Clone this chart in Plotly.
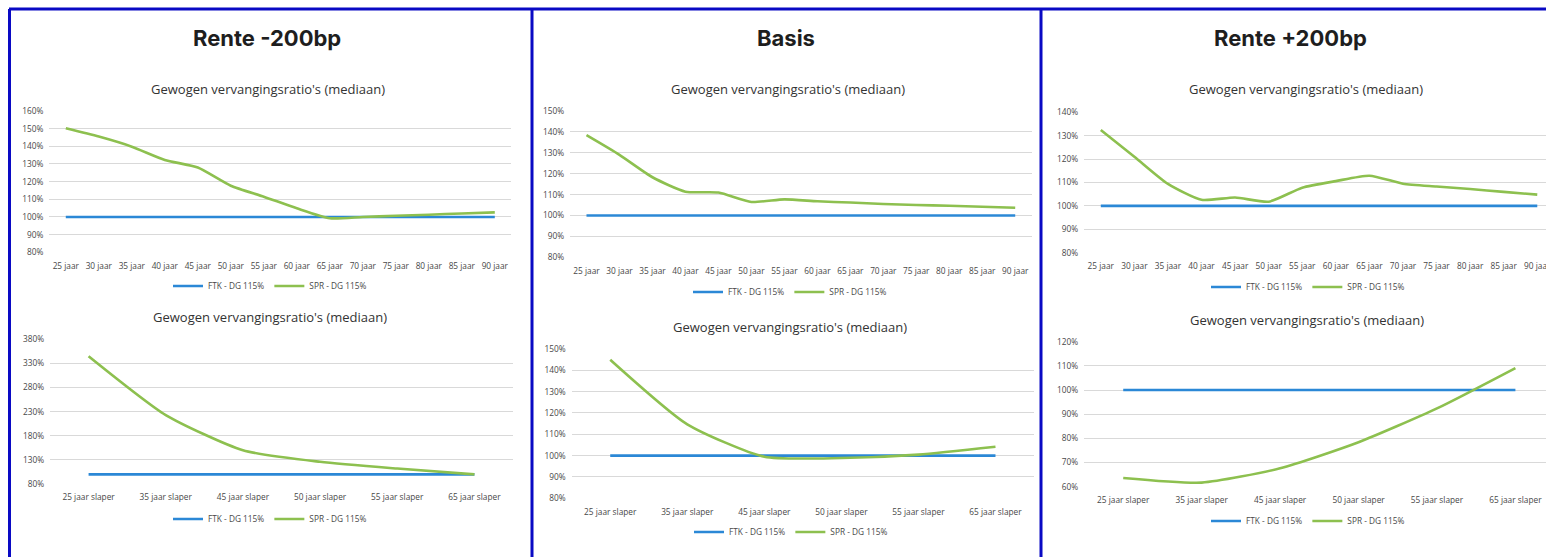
import plotly.graph_objects as go

# ---- data ----
leeftijden = ["25 jaar", "30 jaar", "35 jaar", "40 jaar", "45 jaar", "50 jaar", "55 jaar",
              "60 jaar", "65 jaar", "70 jaar", "75 jaar", "80 jaar", "85 jaar", "90 jaar"]
slapers = ["25 jaar slaper", "35 jaar slaper", "45 jaar slaper",
           "50 jaar slaper", "55 jaar slaper", "65 jaar slaper"]

ftk_leeftijden = [100] * 14
ftk_slapers = [100] * 6

spr_min200_leeftijden = [150.2, 145.5, 139.8, 132.3, 128.0, 117.7, 111.5, 104.9, 99.3, 100.0, 100.7, 101.3, 102.0, 102.6]
spr_min200_slapers = [345, 223, 150, 126, 112, 100]

spr_basis_leeftijden = [138.4, 129.0, 118.3, 111.4, 111.0, 106.5, 107.7, 106.8, 106.2, 105.5, 105.0, 104.7, 104.2, 103.7]
spr_basis_slapers = [145.0, 114.7, 99.5, 98.9, 100.5, 104.2]

spr_plus200_leeftijden = [132.4, 121.0, 109.4, 102.6, 103.6, 101.8, 107.8, 110.6, 112.9, 109.5, 108.3, 107.2, 106.0, 104.8]
spr_plus200_slapers = [63.6, 61.7, 67.6, 78.4, 92.4, 109.1]

panel_titels = ["Rente -200bp", "Basis", "Rente +200bp"]
grafiek_titel = "Gewogen vervangingsratio's (mediaan)"
naam_ftk = "FTK - DG 115%"
naam_spr = "SPR - DG 115%"

# ---- styling ----
W, H = 1546, 557
BLAUW = "#2b88d6"
GROEN = "#8dc04f"
RAND = "#0a0ac4"
GRID = "#d9d9d9"
TEKST = "#484848"
FONT = "Open Sans"


def px_x(x):
    return x / W


def px_y(y):
    return 1 - y / H


fig = go.Figure()

# each chart: (categories, ftk, spr, x-domain px, y-domain px (bottom, top), y-range, dtick, x-range,
#              title pos, legend pos)
charts = [
    (leeftijden, ftk_leeftijden, spr_min200_leeftijden, (49.3, 511.3), (252.3, 111.0), (80, 160), 10,
     [-0.5, 13.5], (268, 89), (270, 286)),
    (slapers, ftk_slapers, spr_min200_slapers, (50.0, 513.0), (484.0, 339.3), (80, 380), 50,
     [-0.5, 5.5], (270, 317), (270, 519)),
    (leeftijden, ftk_leeftijden, spr_basis_leeftijden, (570.0, 1031.7), (257.3, 111.0), (80, 150), 10,
     [-0.5, 13.5], (788, 89), (790, 292)),
    (slapers, ftk_slapers, spr_basis_slapers, (571.7, 1034.0), (498.3, 349.0), (80, 150), 10,
     [-0.5, 5.5], (790, 327), (791, 532)),
    (leeftijden, ftk_leeftijden, spr_plus200_leeftijden, (1084.0, 1546.0), (252.7, 112.3), (80, 140), 10,
     [-0.5, 13.26], (1306, 89), (1308, 287)),
    (slapers, ftk_slapers, spr_plus200_slapers, (1084.0, 1546.0), (486.7, 341.7), (60, 120), 10,
     [-0.5, 5.39], (1307, 320), (1308, 521)),
]

annotations = []
layout_axes = {}

for i, (cats, ftk, spr, xd, yd, yr, dt, xr, tpos, lpos) in enumerate(charts, start=1):
    sfx = "" if i == 1 else str(i)
    leg = "legend" if i == 1 else f"legend{i}"
    fig.add_trace(go.Scatter(
        x=cats, y=ftk, name=naam_ftk, mode="lines",
        line=dict(color=BLAUW, width=2.6),
        xaxis=f"x{sfx}", yaxis=f"y{sfx}", legend=leg, hoverinfo="skip"))
    fig.add_trace(go.Scatter(
        x=cats, y=spr, name=naam_spr, mode="lines",
        line=dict(color=GROEN, width=2.6, shape="spline", smoothing=0.6),
        xaxis=f"x{sfx}", yaxis=f"y{sfx}", legend=leg, hoverinfo="skip"))

    layout_axes[f"xaxis{sfx}"] = dict(
        domain=[px_x(xd[0]), px_x(xd[1])], anchor=f"y{sfx}", type="category",
        range=xr, showgrid=False, zeroline=False, showline=False, ticks="",
        tickfont=dict(family=FONT, size=8.3, color=TEKST), ticklabelstandoff=7,
        automargin=False, fixedrange=True)
    layout_axes[f"yaxis{sfx}"] = dict(
        domain=[px_y(yd[0]), px_y(yd[1])], anchor=f"x{sfx}", range=list(yr), dtick=dt,
        tick0=yr[0], ticksuffix="%", showgrid=True, gridcolor=GRID, gridwidth=1,
        zeroline=False, showline=False, ticks="",
        tickfont=dict(family=FONT, size=8.3, color=TEKST), ticklabelstandoff=5,
        automargin=False, fixedrange=True)
    layout_axes[leg] = dict(
        orientation="h", x=px_x(lpos[0]), y=px_y(lpos[1]), xanchor="center", yanchor="middle",
        xref="paper", yref="paper", font=dict(family=FONT, size=8.3, color=TEKST),
        itemwidth=30, bgcolor="rgba(0,0,0,0)", tracegroupgap=0)

    annotations.append(dict(
        text=grafiek_titel, x=px_x(tpos[0]), y=px_y(tpos[1]), xref="paper", yref="paper",
        xanchor="center", yanchor="middle", showarrow=False,
        font=dict(family=FONT, size=13, color="#333333")))

# panel headings
for titel, cx in zip(panel_titels, [267, 786, 1290]):
    annotations.append(dict(
        text=f"<b>{titel}</b>", x=px_x(cx), y=px_y(38), xref="paper", yref="paper",
        xanchor="center", yanchor="middle", showarrow=False,
        font=dict(family="Inter", size=22, color="#1e1e1e")))

# blue panel frames
lijnen = [
    (9, 9, W, 9),
    (9.5, 9, 9.5, H),
    (532, 9, 532, H),
    (1041, 9, 1041, H),
]
shapes = [dict(type="line", xref="paper", yref="paper",
               x0=px_x(x0), y0=px_y(y0), x1=px_x(x1), y1=px_y(y1),
               line=dict(color=RAND, width=3)) for x0, y0, x1, y1 in lijnen]

fig.update_layout(
    width=W, height=H, autosize=False,
    margin=dict(l=0, r=0, t=0, b=0, autoexpand=False),
    paper_bgcolor="white", plot_bgcolor="white",
    annotations=annotations, shapes=shapes,
    **layout_axes)

fig.write_html("out.html", config={"displayModeBar": False})
